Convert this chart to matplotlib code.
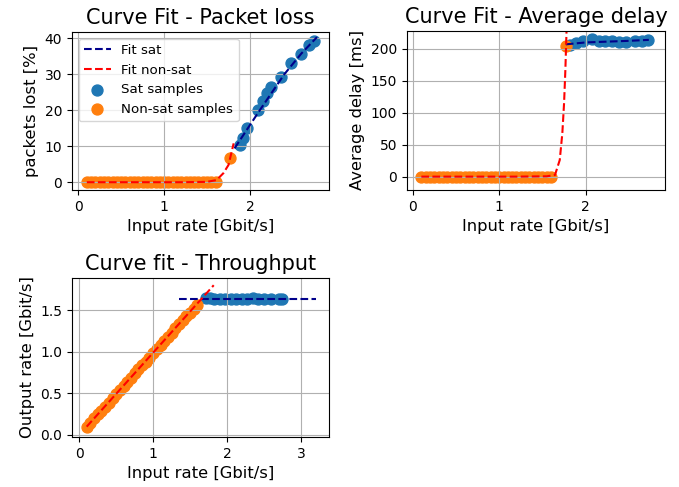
import matplotlib
matplotlib.use("Agg")
from matplotlib import pyplot as plt

# non-saturated samples (input rate, Gbit/s)
nonsat_x = [0.1, 0.15, 0.2, 0.25, 0.3, 0.35, 0.4, 0.45, 0.5, 0.55, 0.6, 0.65, 0.7, 0.75,
            0.8, 0.85, 0.9, 0.95, 1.0, 1.05, 1.1, 1.15, 1.2, 1.25, 1.3, 1.35, 1.4, 1.45,
            1.5, 1.55, 1.6]
nonsat_loss = [0.0] * len(nonsat_x)
nonsat_delay = [0.0] * len(nonsat_x)
nonsat_out = [0.1, 0.15, 0.2, 0.25, 0.29, 0.34, 0.39, 0.44, 0.49, 0.54, 0.59, 0.64, 0.69, 0.74,
              0.79, 0.84, 0.88, 0.93, 0.98, 1.03, 1.08, 1.13, 1.18, 1.23, 1.28, 1.33, 1.38,
              1.43, 1.47, 1.51, 1.56]

# extra non-sat point near the knee (loss / delay plots)
knee_x = [1.77]
knee_loss = [6.8]
knee_delay = [205]

# saturated samples
sat_loss_x = [1.88, 1.92, 1.96, 2.09, 2.15, 2.2, 2.25, 2.36, 2.48, 2.6, 2.69, 2.74]
sat_loss_y = [10.4, 12.2, 15.0, 20.1, 22.7, 24.8, 26.4, 29.2, 33.1, 35.5, 38.0, 39.2]

sat_delay_x = [1.82, 1.89, 1.97, 2.07, 2.15, 2.22, 2.3, 2.38, 2.47, 2.57, 2.65, 2.72]
sat_delay_y = [206, 209, 212, 216, 212, 212, 212, 211, 211, 212, 212, 214]

sat_out_x = [1.72, 1.77, 1.82, 1.9, 1.97, 2.05, 2.12, 2.2, 2.27, 2.35, 2.42, 2.5, 2.6, 2.7, 2.74]
sat_out_y = [1.65, 1.65, 1.64, 1.64, 1.64, 1.64, 1.64, 1.64, 1.64, 1.65, 1.64, 1.64, 1.64, 1.64, 1.63]

# fitted curves
fit_loss_sat_x = [1.82, 2.1, 2.4, 2.6, 2.78]
fit_loss_sat_y = [9.4, 19.5, 30.0, 35.8, 40.3]
fit_loss_ns_x = [0.1, 0.6, 1.2, 1.5, 1.61, 1.69, 1.75, 1.81]
fit_loss_ns_y = [0.0, 0.0, 0.0, 0.1, 0.6, 2.5, 4.8, 10.8]

fit_delay_sat_x = [1.77, 2.0, 2.3, 2.5, 2.73]
fit_delay_sat_y = [207, 210, 211.5, 212.5, 214]
fit_delay_ns_x = [0.1, 0.6, 1.2, 1.55, 1.645, 1.7, 1.73, 1.75, 1.765, 1.78]
fit_delay_ns_y = [0, 0, 0, 0.5, 2.6, 26, 68, 115, 167, 235]

fit_out_sat_x = [1.35, 3.2]
fit_out_sat_y = [1.635, 1.635]
fit_out_ns_x = [0.1, 1.82]
fit_out_ns_y = [0.1, 1.8]

fig = plt.figure(figsize=(6.79, 4.87), dpi=100)
ax1 = fig.add_axes([0.106, 0.61, 0.3785, 0.3244])
ax2 = fig.add_axes([0.5994, 0.61, 0.38, 0.3265])
ax3 = fig.add_axes([0.106, 0.1027, 0.3785, 0.3265])

s = 62
tsize = 15
lsize = 11.8

ax1.plot(fit_loss_sat_x, fit_loss_sat_y, "--", color="darkblue", label="Fit sat")
ax1.plot(fit_loss_ns_x, fit_loss_ns_y, "--", color="red", label="Fit non-sat")
ax1.scatter(sat_loss_x, sat_loss_y, s=s, label="Sat samples")
ax1.scatter(nonsat_x + knee_x, nonsat_loss + knee_loss, s=s, label="Non-sat samples")
ax1.set_title("Curve Fit - Packet loss", fontsize=tsize)
ax1.set_xlabel("Input rate [Gbit/s]", fontsize=lsize)
ax1.set_ylabel("packets lost [%]", fontsize=lsize)
ax1.set_xlim(-0.073, 2.92)
ax1.set_ylim(-2.14, 41.75)
ax1.set_xticks([0, 1, 2])
ax1.set_yticks([0, 10, 20, 30, 40])
ax1.grid(True)
ax1.legend(loc="upper left", fontsize=9.6)

ax2.plot(fit_delay_sat_x, fit_delay_sat_y, "--", color="darkblue")
ax2.plot(fit_delay_ns_x, fit_delay_ns_y, "--", color="red")
ax2.scatter(sat_delay_x, sat_delay_y, s=s)
ax2.scatter(nonsat_x + knee_x, nonsat_delay + knee_delay, s=s)
ax2.set_title("Curve Fit - Average delay", fontsize=tsize)
ax2.set_xlabel("Input rate [Gbit/s]", fontsize=lsize)
ax2.set_ylabel("Average delay [ms]", fontsize=lsize)
ax2.set_xlim(-0.066, 2.917)
ax2.set_ylim(-20.8, 228)
ax2.set_xticks([0, 1, 2])
ax2.grid(True)

ax3.plot(fit_out_sat_x, fit_out_sat_y, "--", color="darkblue")
ax3.plot(fit_out_ns_x, fit_out_ns_y, "--", color="red")
ax3.scatter(sat_out_x, sat_out_y, s=s)
ax3.scatter(nonsat_x, nonsat_out, s=s)
ax3.set_title("Curve fit - Throughput", fontsize=tsize)
ax3.set_xlabel("Input rate [Gbit/s]", fontsize=lsize)
ax3.set_ylabel("Output rate [Gbit/s]", fontsize=lsize)
ax3.set_xlim(-0.099, 3.38)
ax3.set_ylim(-0.024, 1.887)
ax3.set_xticks([0, 1, 2, 3])
ax3.set_yticks([0.0, 0.5, 1.0, 1.5])
ax3.grid(True)

fig.savefig("out.png", dpi=100)
